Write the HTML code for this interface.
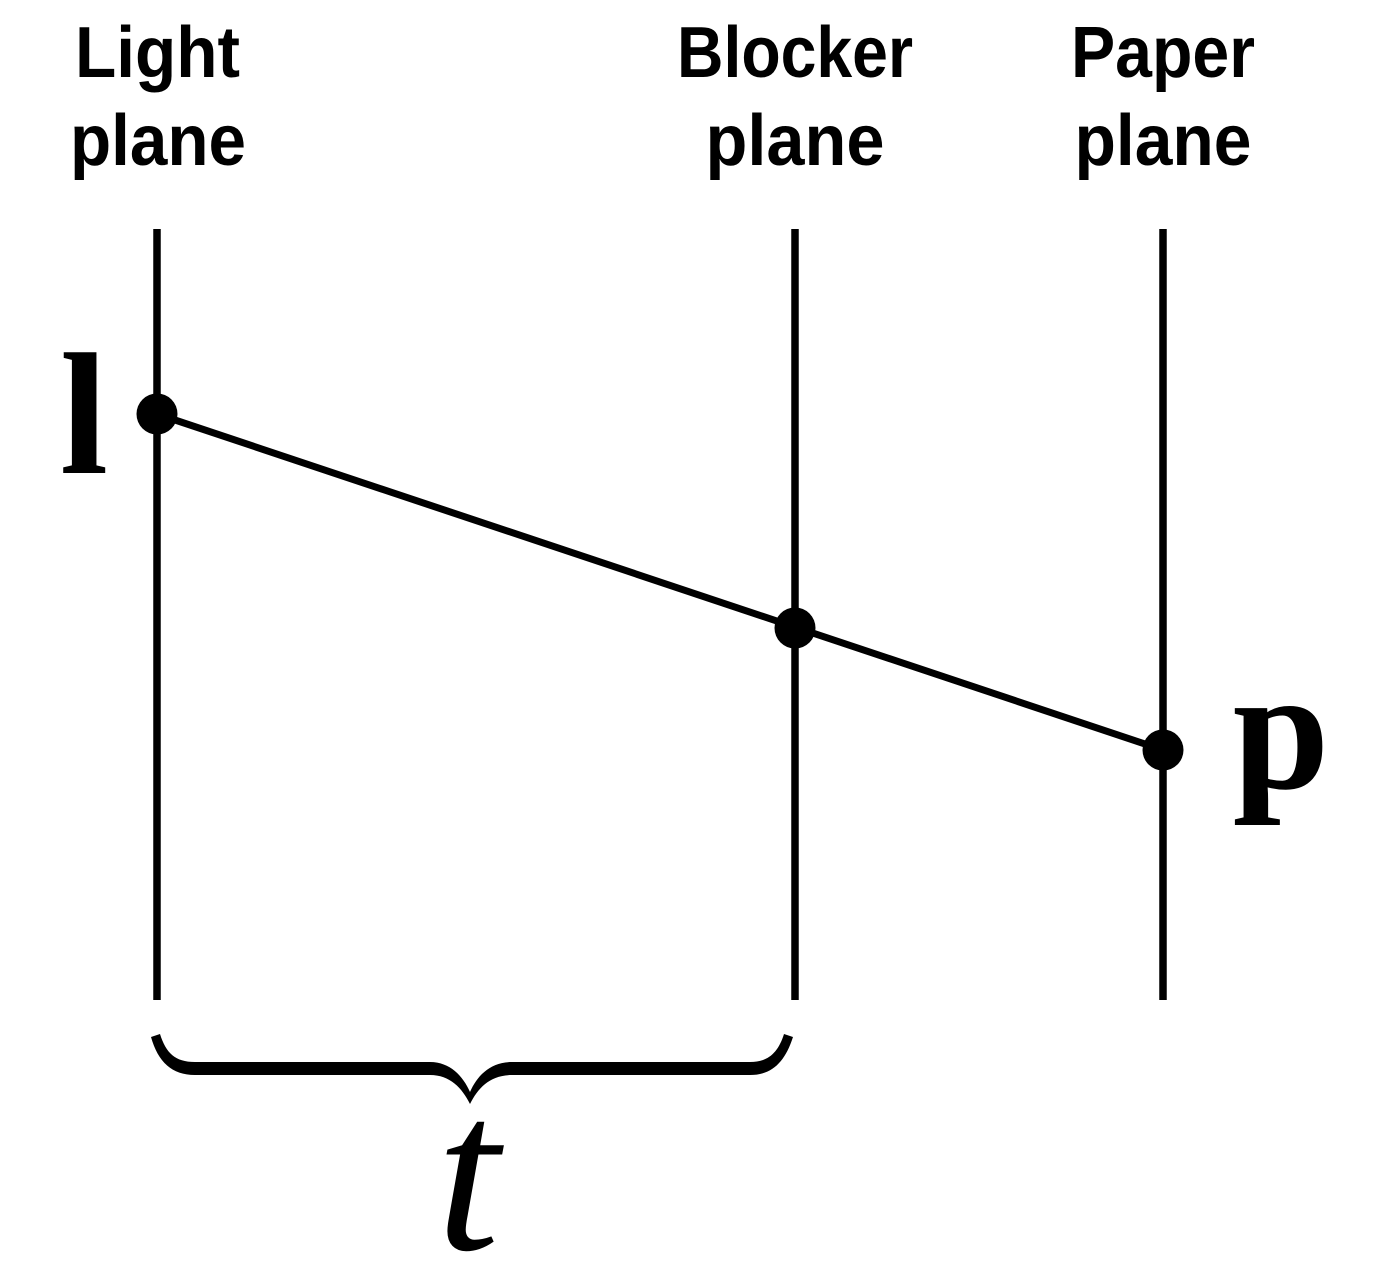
<!DOCTYPE html>
<html>
<head>
<meta charset="utf-8">
<style>
html,body{margin:0;padding:0;background:#fff;}
svg{display:block;}
</style>
</head>
<body>
<svg width="1398" height="1275" viewBox="0 0 1398 1275" xmlns="http://www.w3.org/2000/svg">
<rect width="1398" height="1275" fill="#fff"/>
<g font-family="'Liberation Sans', sans-serif" font-weight="bold" font-size="72" fill="#000" text-anchor="middle">
  <text x="157.5" y="77" textLength="165" lengthAdjust="spacingAndGlyphs">Light</text>
  <text x="158" y="165" textLength="176" lengthAdjust="spacingAndGlyphs">plane</text>
  <text x="795" y="77" textLength="236" lengthAdjust="spacingAndGlyphs">Blocker</text>
  <text x="795" y="165" textLength="179" lengthAdjust="spacingAndGlyphs">plane</text>
  <text x="1163" y="77" textLength="184" lengthAdjust="spacingAndGlyphs">Paper</text>
  <text x="1163" y="165" textLength="177" lengthAdjust="spacingAndGlyphs">plane</text>
</g>
<g stroke="#000" stroke-width="7.5">
  <line x1="157" y1="229" x2="157" y2="1000"/>
  <line x1="795" y1="229" x2="795" y2="1000"/>
  <line x1="1163" y1="229" x2="1163" y2="1000"/>
  <line x1="157" y1="414" x2="1163" y2="750" stroke-width="7"/>
</g>
<g fill="#000">
  <circle cx="157" cy="414" r="20.5"/>
  <circle cx="795" cy="628" r="20.5"/>
  <circle cx="1163" cy="750" r="20.5"/>
</g>
<g font-family="'Liberation Serif', serif" fill="#000">
  <text x="84" y="473" font-size="174" font-weight="bold" text-anchor="middle">l</text>
  <text x="1281" y="788" font-size="174" font-weight="bold" text-anchor="middle">p</text>
  <text x="468" y="1249" font-size="226" font-style="italic" text-anchor="middle">t</text>
</g>
<path fill="#000" d="M151,1037 C158,1062 172,1075 195,1075 L430,1075 C450,1075 462,1088 470,1104 C478,1088 490,1075 512,1075 L750,1075 C772,1075 785,1062 793,1037 L784,1034 C778,1053 768,1062 750,1062 L512,1062 C490,1062 477,1076 470,1092 C463,1076 450,1062 430,1062 L195,1062 C175,1062 166,1053 160,1034 Z"/>
</svg>
</body>
</html>
